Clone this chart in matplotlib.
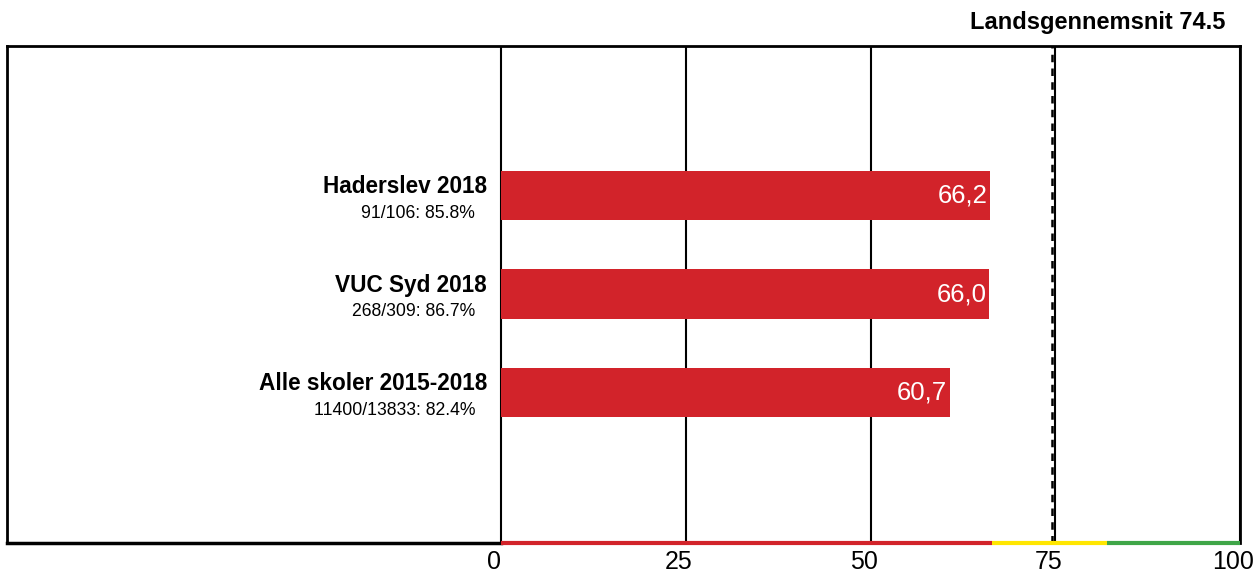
import matplotlib.pyplot as plt
import matplotlib.transforms as mtransforms
from matplotlib.lines import Line2D

plt.rcParams['font.family'] = ['Liberation Sans', 'DejaVu Sans']

# data
kategorier = ['Haderslev 2018', 'VUC Syd 2018', 'Alle skoler 2015-2018']
undertekst = ['91/106: 85.8%', '268/309: 86.7%', '11400/13833: 82.4%']
vaerdier = [66.2, 66.0, 60.7]
vaerdi_tekst = ['66,2', '66,0', '60,7']
landsgennemsnit = 74.5
ticks = [0, 25, 50, 75, 100]
# farvebaand langs x-aksen (start, slut, farve)
baand = [(0, 66.5, '#d2232a'), (66.5, 82, '#ffe600'), (82, 100, '#3fa648')]

fig = plt.figure(figsize=(12.53, 5.72), dpi=100)
ax = fig.add_axes([7 / 1253, 1 - 543 / 572, (1240 - 7) / 1253, (543 - 46) / 572])

venstre = -66.85
ax.set_xlim(venstre, 100)
ax.set_ylim(3.53, -1.52)

y = list(range(len(kategorier)))
ax.barh(y, vaerdier, height=0.5, color='#d2232a', zorder=3)

for yi, v, t in zip(y, vaerdier, vaerdi_tekst):
    ax.text(v - 0.3, yi, t, color='white', fontsize=18.5, ha='right', va='center', zorder=4)

for yi, k, u in zip(y, kategorier, undertekst):
    ax.text(-1.9, yi - 0.09, k, fontsize=16.3, fontweight='bold', ha='right', va='center')
    ax.text(-3.5, yi + 0.18, u, fontsize=12.7, ha='right', va='center')

# gitterlinjer
for t in ticks:
    ax.axvline(t, color='black', lw=1.5, zorder=2)
ax.axvline(landsgennemsnit, color='black', lw=1.8, ls=(0, (3, 2.5)), zorder=2)

for s in ['top', 'left', 'right']:
    ax.spines[s].set_linewidth(2)
ax.spines['bottom'].set_visible(False)
ax.add_line(Line2D([venstre, 0], [3.53, 3.53], color='black', lw=2.5, clip_on=False, zorder=5))
for a, b, c in baand:
    ax.add_line(Line2D([a, b], [3.53, 3.53], color=c, lw=3, clip_on=False, zorder=5,
                       solid_capstyle='butt'))

ax.set_yticks([])
ax.set_xticks(ticks)
ax.set_xticklabels([])
ax.tick_params(axis='x', length=0)

# x-etiketter lidt forskudt mod venstre som i originalen
forskyd = mtransforms.ScaledTranslation(-7 / 100, -7 / 100, fig.dpi_scale_trans)
for t in ticks:
    ax.text(t, 0, str(t), fontsize=18, ha='center', va='top',
            transform=ax.get_xaxis_transform() + forskyd)

fig.text(1225 / 1253, 1 - 22 / 572, f'Landsgennemsnit {landsgennemsnit}', fontsize=17,
         fontweight='bold', ha='right', va='center')

fig.savefig('out.png', dpi=100)
